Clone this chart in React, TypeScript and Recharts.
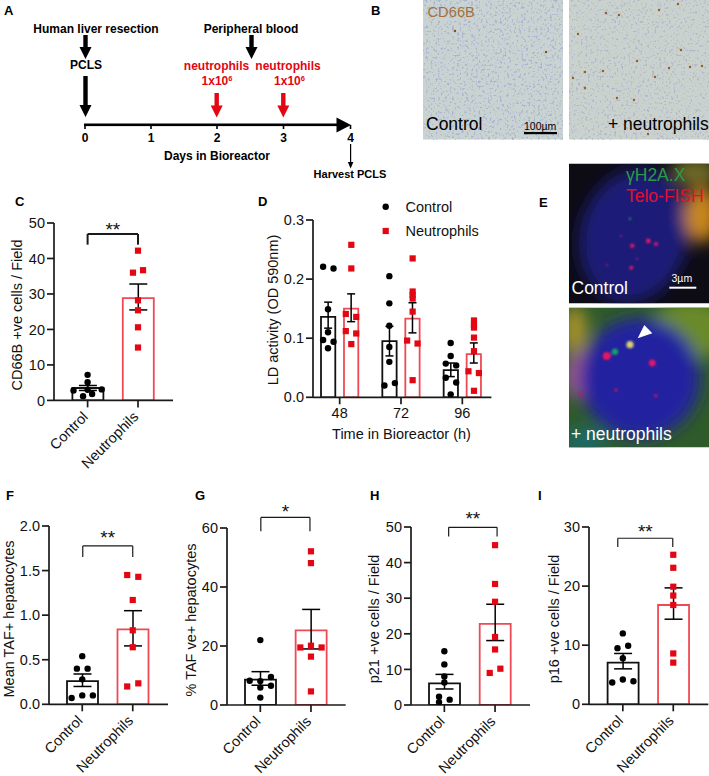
import React from "react";
import {
  ComposedChart,
  Bar,
  Cell,
  ErrorBar,
  Scatter,
  XAxis,
  YAxis,
  ReferenceLine,
  ReferenceDot,
} from "recharts";

const FONT = "'Liberation Sans', Arial, sans-serif";
const RED = "#e30613";
const BAR_RED = "#ee4a55";

const pairCats = ["Control", "Neutrophils"];
const hourCats = ["48", "72", "96"];

// panel C
const cMeans = [3.5, 28.8];
const cLows = [2.8, 25.5];
const cHighs = [4.2, 32.8];
const cControl = [7.2, 5.1, 2.8, 3.1, 3, 1.8, 1.2];
const cControlX = [0, 0, -0.28, 0.28, 0, 0.09, -0.09];
const cNeut = [42.2, 36, 36.7, 28.2, 25.4, 20.6, 14.9];
const cNeutX = [0, -0.1, 0.1, 0, 0, 0, 0];
const cTicks = [0, 10, 20, 30, 40, 50];

// panel D
const dControlMeans = [0.136, 0.095, 0.046];
const dControlLows = [0.117, 0.07, 0.035];
const dControlHighs = [0.161, 0.12, 0.058];
const dNeutMeans = [0.15, 0.133, 0.073];
const dNeutLows = [0.128, 0.109, 0.058];
const dNeutHighs = [0.175, 0.16, 0.092];
const dControl48 = [0.221, 0.218, 0.149, 0.11, 0.097, 0.094, 0.083];
const dControl72 = [0.205, 0.159, 0.121, 0.085, 0.06, 0.02, 0.024];
const dControl96 = [0.092, 0.07, 0.057, 0.054, 0.033, 0.025, 0.005];
const dNeut48 = [0.258, 0.218, 0.141, 0.136, 0.112, 0.108, 0.09];
const dNeut72 = [0.235, 0.179, 0.173, 0.167, 0.145, 0.096, 0.091, 0.029];
const dNeut96 = [0.13, 0.122, 0.118, 0.101, 0.078, 0.044, 0.041, 0.011];
const dControl48X = [-0.27, -0.1, -0.19, -0.19, -0.27, -0.1, -0.19];
const dControl72X = [-0.19, -0.19, -0.19, -0.19, -0.19, -0.27, -0.1];
const dControl96X = [-0.19, -0.19, -0.27, -0.1, -0.27, -0.1, -0.19];
const dNeut48X = [0.19, 0.19, 0.1, 0.27, 0.1, 0.27, 0.19];
const dNeut72X = [0.19, 0.19, 0.19, 0.19, 0.19, 0.1, 0.27, 0.19];
const dNeut96X = [0.19, 0.19, 0.19, 0.19, 0.19, 0.1, 0.27, 0.19];
const dTicks = [0, 0.1, 0.2, 0.3];

// panel F
const fMeans = [0.26, 0.84];
const fLows = [0.2, 0.655];
const fHighs = [0.34, 1.05];
const fControl = [0.54, 0.4, 0.4, 0.28, 0.07, 0.1, 0.1];
const fControlX = [0, -0.106, 0.106, 0, -0.21, 0, 0.21];
const fNeut = [1.45, 1.43, 1.17, 0.83, 0.64, 0.2, 0.235];
const fNeutX = [-0.11, 0.11, 0, 0, 0, -0.11, 0.11];
const fTicks = [0, 0.5, 1, 1.5, 2];

// panel G
const gMeans = [8.6, 25.3];
const gLows = [6.7, 19];
const gHighs = [11.3, 32.4];
const gControl = [22, 8.2, 9.5, 8.1, 6.5, 5.9, 2.5];
const gControlX = [0, -0.21, 0.21, 0, 0.21, 0, 0];
const gNeut = [52.1, 48.1, 19.5, 20.1, 19.5, 16.4, 4.6];
const gNeutX = [0, 0, -0.21, 0, 0.21, 0, 0];
const gTicks = [0, 20, 40, 60];

// panel H
const hMeans = [6.1, 22.8];
const hLows = [4.5, 18.1];
const hHighs = [8.6, 28.3];
const hControl = [15.1, 11.4, 8, 6.3, 2.3, 1.5, 0.8];
const hControlX = [0, 0, 0, 0, -0.105, 0.105, -0.105];
const hNeut = [44.9, 34, 29, 19.1, 15.6, 9, 10.2];
const hNeutX = [0, 0, 0, 0, 0, -0.105, 0.105];
const hTicks = [0, 10, 20, 30, 40, 50];

// panel I
const iMeans = [7.05, 16.8];
const iLows = [6, 14.4];
const iHighs = [8.6, 19.7];
const iControl = [12, 9.5, 9.9, 7.8, 3.7, 4.2, 3.9];
const iControlX = [0, -0.106, 0.106, 0, -0.21, 0, 0.21];
const iNeut = [25.3, 23.1, 19.9, 18.4, 16.8, 8.6, 7.05];
const iNeutX = [0, 0, 0, 0, 0, 0, 0];
const iTicks = [0, 10, 20, 30];

const zipPoints = (xs: number[], ys: number[], base = 0) =>
  ys.map((y, i) => ({ x: base + xs[i], y }));

const DotMark = ({ cx, cy }: any) => <circle cx={cx} cy={cy} r={3.2} fill="#000" />;
const SquareMark = ({ cx, cy }: any) => (
  <rect x={cx - 3.1} y={cy - 3.1} width={6.2} height={6.2} fill={RED} />
);

const errOf = (m: number[], lo: number[], hi: number[], i: number) => [m[i] - lo[i], hi[i] - m[i]];

// one bar panel, the plot box is given in page pixels
function BarPanel({
  axisX,
  xEnd,
  yTop,
  yBottom,
  padL,
  padR,
  cats,
  yMax,
  ticks,
  decimals = 0,
  barSize,
  barGap = 0,
  capHalf = 9,
  bars,
  controlPts,
  neutPts,
  bracket,
  stars,
  starY,
  angled = true,
}: any) {
  const leftRoom = 50;
  const topRoom = 42;
  const bottomRoom = 72;
  const plotW = xEnd - axisX;
  const plotH = yBottom - yTop;
  const data = cats.map((name: string, i: number) => {
    const row: any = { name };
    bars.forEach((b: any) => {
      row[b.key] = b.means[i];
      row[b.key + "Err"] = errOf(b.means, b.lows, b.highs, i);
    });
    return row;
  });
  const tickStyle = { fontFamily: FONT, fontSize: 14.5, fill: "#111" };
  const axisLine = { stroke: "#1a1a1a", strokeWidth: 1.7 };
  return (
    <div style={{ position: "absolute", left: axisX - leftRoom, top: yTop - topRoom }}>
      <ComposedChart
        width={leftRoom + plotW + 1}
        height={topRoom + plotH + bottomRoom}
        data={data}
        barSize={barSize}
        barGap={barGap}
        margin={{ top: topRoom, right: 1, bottom: 0, left: 0 }}
      >
        <XAxis
          xAxisId="cat"
          dataKey="name"
          type="category"
          height={bottomRoom}
          padding={{ left: padL, right: padR }}
          interval={0}
          tickSize={7}
          tickMargin={3}
          axisLine={axisLine}
          tickLine={axisLine}
          tick={angled ? { ...tickStyle, dx: -6 } : tickStyle}
          angle={angled ? -45 : 0}
          textAnchor={angled ? "end" : "middle"}
        />
        <XAxis
          xAxisId="num"
          dataKey="x"
          type="number"
          hide
          domain={[-0.5, cats.length - 0.5]}
          padding={{ left: padL, right: padR }}
          allowDataOverflow
        />
        <YAxis
          dataKey="y"
          type="number"
          width={leftRoom}
          domain={[0, yMax]}
          ticks={ticks}
          interval={0}
          tickSize={7}
          allowDataOverflow
          axisLine={axisLine}
          tickLine={axisLine}
          tick={tickStyle}
          tickFormatter={(v: number) => v.toFixed(decimals)}
        />
        {bars.map((b: any) => (
          <Bar
            key={b.key}
            xAxisId="cat"
            dataKey={b.key}
            fill="#fff"
            strokeWidth={1.8}
            isAnimationActive={false}
          >
            {cats.map((c: string, i: number) => (
              <Cell key={c} fill="#fff" stroke={b.colors[i]} />
            ))}
            <ErrorBar
              dataKey={b.key + "Err"}
              direction="y"
              width={capHalf}
              stroke="#000"
              strokeWidth={1.5}
              isAnimationActive={false}
            />
          </Bar>
        ))}
        <Scatter
          xAxisId="num"
          data={controlPts}
          dataKey="y"
          shape={DotMark}
          isAnimationActive={false}
        />
        <Scatter
          xAxisId="num"
          data={neutPts}
          dataKey="y"
          shape={SquareMark}
          isAnimationActive={false}
        />
        {bracket && (
          <ReferenceLine
            xAxisId="num"
            ifOverflow="visible"
            stroke="#1a1a1a"
            strokeWidth={bracket.w}
            segment={[
              { x: bracket.x0, y: bracket.top },
              { x: bracket.x1, y: bracket.top },
            ]}
          />
        )}
        {bracket && (
          <ReferenceLine
            xAxisId="num"
            ifOverflow="visible"
            stroke="#1a1a1a"
            strokeWidth={bracket.w}
            segment={[
              { x: bracket.x0, y: bracket.top },
              { x: bracket.x0, y: bracket.bottom },
            ]}
          />
        )}
        {bracket && (
          <ReferenceLine
            xAxisId="num"
            ifOverflow="visible"
            stroke="#1a1a1a"
            strokeWidth={bracket.w}
            segment={[
              { x: bracket.x1, y: bracket.top },
              { x: bracket.x1, y: bracket.bottom },
            ]}
          />
        )}
        {stars && (
          <ReferenceDot
            xAxisId="num"
            x={(bracket.x0 + bracket.x1) / 2}
            y={starY}
            r={0}
            ifOverflow="visible"
            label={{ value: stars, position: "center", fontFamily: FONT, fontSize: 19, fill: "#111" }}
          />
        )}
      </ComposedChart>
    </div>
  );
}

const pairBars = (means: number[], lows: number[], highs: number[]) => [
  { key: "mean", means, lows, highs, colors: ["#111", BAR_RED] },
];

const Arrow = ({ x, y0, y1, color = "#000" }: any) => (
  <path
    d={`M${x - 2.2} ${y0}H${x + 2.2}V${y1 - 12}H${x + 6}L${x} ${y1}L${x - 6} ${y1 - 12}H${x - 2.2}Z`}
    fill={color}
  />
);

const YLabel = ({ x, y, children }: any) => (
  <text
    transform={`translate(${x},${y}) rotate(-90)`}
    textAnchor="middle"
    dominantBaseline="central"
    fontSize={14.5}
    fill="#111"
  >
    {children}
  </text>
);

const panelLetters = [
  ["A", 4, 15],
  ["B", 371, 15],
  ["C", 15, 206],
  ["D", 258, 206],
  ["E", 539, 207],
  ["F", 6, 500],
  ["G", 195, 500],
  ["H", 370, 500],
  ["I", 538, 500],
];

// stained cells in the micrographs
const brownLeft = [[455, 31], [546, 52]];
const brownRight = [
  [606, 13], [619, 15], [659, 10], [678, 4], [578, 34], [681, 50], [637, 61], [669, 68], [690, 67],
  [702, 66], [573, 78], [603, 71], [585, 72], [634, 100], [617, 98], [648, 134], [585, 88], [655, 77],
];

function Schematic() {
  return (
    <g fontWeight="bold" fontSize={12} textAnchor="middle">
      <text x={96} y={33}>Human liver resection</text>
      <Arrow x={85.5} y0={35} y1={59} />
      <text x={86} y={69}>PCLS</text>
      <Arrow x={85.5} y0={76} y1={117} />
      <text x={251} y={33}>Peripheral blood</text>
      <Arrow x={251.5} y0={35} y1={59} />
      <g fill={RED}>
        <text x={216.5} y={70}>neutrophils</text>
        <text x={288} y={70}>neutrophils</text>
        <text x={217} y={85}>1x10<tspan fontSize={7.5} dy={-4}>6</tspan></text>
        <text x={289.5} y={85}>1x10<tspan fontSize={7.5} dy={-4}>6</tspan></text>
      </g>
      <Arrow x={216.7} y0={93} y1={117.5} color={RED} />
      <Arrow x={283.3} y0={93} y1={117.5} color={RED} />
      <rect x={84} y={123.5} width={254} height={2.6} fill="#000" />
      <path d="M336.5 117.5L351 125L336.5 132.5Z" fill="#000" />
      {[85, 151, 217, 283.5, 350.5].map((x, i) => (
        <g key={x}>
          <rect x={x - 0.8} y={125} width={1.6} height={4} fill="#000" />
          <text x={x} y={142}>{i}</text>
        </g>
      ))}
      <text x={217} y={160}>Days in Bioreactor</text>
      <rect x={350} y={144} width={1.2} height={20} fill="#000" />
      <path d="M347.8 162L350.6 168.5L353.4 162Z" fill="#000" />
      <text x={350} y={178} fontSize={11}>Harvest PCLS</text>
    </g>
  );
}

function Micrographs() {
  return (
    <g>
      <rect x={423} y={0} width={140} height={139.5} fill="#c9d3d1" />
      <rect x={423} y={0} width={140} height={139.5} filter="url(#cells)" opacity={0.6} />
      <rect x={569} y={0} width={140} height={139.5} fill="#c9d2cd" />
      <rect x={569} y={0} width={140} height={139.5} filter="url(#cells2)" opacity={0.55} />
      {brownLeft.map(([x, y]) => (
        <circle key={`${x}-${y}`} cx={x} cy={y} r={1.2} fill="#8f4a14" />
      ))}
      {brownRight.map(([x, y]) => (
        <circle key={`${x}-${y}`} cx={x} cy={y} r={1.2} fill="#9c5a1e" />
      ))}
      <text x={427.5} y={17} fontSize={14.7} fill="#a86f3c">CD66B</text>
      <text x={426} y={130} fontSize={17.5} fill="#000">Control</text>
      <text x={524} y={130} fontSize={10.5} fill="#000">100µm</text>
      <rect x={524} y={132} width={33} height={2.2} fill="#000" />
      <text x={608} y={130} fontSize={17.5} fill="#000">+ neutrophils</text>
    </g>
  );
}

function Nuclei() {
  return (
    <g>
      <clipPath id="eTop"><rect x={569} y={163.5} width={140} height={140} /></clipPath>
      <clipPath id="eBottom"><rect x={569} y={307.5} width={140} height={140} /></clipPath>
      <g clipPath="url(#eTop)">
        <rect x={569} y={163.5} width={140} height={140} fill="#0d0c14" />
        <g filter="url(#blur8)">
          <ellipse cx={634} cy={236} rx={54} ry={68} fill="#1b1b78" transform="rotate(15 634 236)" />
          <ellipse cx={702} cy={215} rx={17} ry={28} fill="#c8861c" />
          <ellipse cx={695} cy={172} rx={24} ry={14} fill="#6f6a28" />
        </g>
        <g filter="url(#blur1)" fill="#e0186a">
          <circle cx={648.3} cy={241} r={2.4} />
          <circle cx={656} cy={244} r={2} />
          <circle cx={632.3} cy={245.7} r={2.2} />
          <circle cx={631.3} cy={267.7} r={2} />
          <circle cx={637} cy={259} r={1.2} opacity={0.6} />
          <circle cx={607} cy={265} r={1.2} opacity={0.6} />
          <circle cx={621} cy={236} r={1.2} opacity={0.6} />
          <circle cx={630} cy={218.7} r={1.2} fill="#1a9a5a" />
        </g>
        <text x={626} y={180.5} fontSize={17.5} fill="#2b9a48">γH2A.X</text>
        <text x={626} y={201.5} fontSize={17.5} fill="#e0102f">Telo-FISH</text>
        <text x={571.5} y={294} fontSize={17.5} fill="#fff">Control</text>
        <text x={671.5} y={281.5} fontSize={10.5} fill="#fff">3µm</text>
        <rect x={669.3} y={286.7} width={27} height={2} fill="#fff" />
      </g>
      <g clipPath="url(#eBottom)">
        <rect x={569} y={307.5} width={140} height={140} fill="#2f5a2a" />
        <g filter="url(#blur8)">
          <ellipse cx={690} cy={330} rx={40} ry={30} fill="#6a8a2a" />
          <ellipse cx={575} cy={330} rx={12} ry={24} fill="#a8922a" />
          <ellipse cx={580} cy={375} rx={16} ry={24} fill="#9a5a90" />
          <ellipse cx={585} cy={440} rx={22} ry={12} fill="#1a6a6a" />
          <ellipse cx={640} cy={378} rx={60} ry={60} fill="#2222a0" />
        </g>
        <g filter="url(#blur1)">
          <circle cx={606.7} cy={356} r={4} fill="#e8125f" />
          <circle cx={615} cy={351.7} r={3.2} fill="#12a060" />
          <circle cx={630} cy={344.7} r={3.6} fill="#d8d070" />
          <circle cx={652.3} cy={363} r={3.4} fill="#e0146a" />
          <circle cx={616} cy={390} r={1.8} fill="#c01868" />
          <circle cx={655.7} cy={395.7} r={1.8} fill="#c01868" />
          <circle cx={581} cy={394} r={1.8} fill="#c01868" />
        </g>
        <path d="M644.3 325L652.3 333.3L637.7 338.3Z" fill="#fff" />
        <text x={571} y={440} fontSize={17.5} fill="#fff">+ neutrophils</text>
      </g>
    </g>
  );
}

export default function App() {
  const controlD = [
    ...zipPoints(dControl48X, dControl48, 0),
    ...zipPoints(dControl72X, dControl72, 1),
    ...zipPoints(dControl96X, dControl96, 2),
  ];
  const neutD = [
    ...zipPoints(dNeut48X, dNeut48, 0),
    ...zipPoints(dNeut72X, dNeut72, 1),
    ...zipPoints(dNeut96X, dNeut96, 2),
  ];
  const neutPair = (xs: number[], ys: number[]) => zipPoints(xs, ys, 1);

  return (
    <div
      style={{
        position: "absolute",
        left: 0,
        top: 0,
        width: 709,
        height: 776,
        overflow: "hidden",
        background: "#fff",
        fontFamily: FONT,
      }}
    >
      <svg
        width={709}
        height={776}
        style={{ position: "absolute", left: 0, top: 0 }}
        fontFamily={FONT}
      >
        <defs>
          <filter id="cells" x="0" y="0" width="100%" height="100%" colorInterpolationFilters="sRGB">
            <feTurbulence type="fractalNoise" baseFrequency="0.42" numOctaves="2" seed="4" />
            <feColorMatrix values="0 0 0 0 0.6  0 0 0 0 0.62  0 0 0 0 0.82  6 0 0 0 -3.3" />
          </filter>
          <filter id="cells2" x="0" y="0" width="100%" height="100%" colorInterpolationFilters="sRGB">
            <feTurbulence type="fractalNoise" baseFrequency="0.42" numOctaves="2" seed="9" />
            <feColorMatrix values="0 0 0 0 0.64  0 0 0 0 0.62  0 0 0 0 0.8  6 0 0 0 -3.4" />
          </filter>
          <filter id="blur8"><feGaussianBlur stdDeviation="8" /></filter>
          <filter id="blur1"><feGaussianBlur stdDeviation="0.8" /></filter>
        </defs>
        <Schematic />
        <Micrographs />
        <Nuclei />
        {panelLetters.map(([l, x, y]) => (
          <text key={l as string} x={x as number} y={y as number} fontSize={13} fontWeight="bold" fill="#000">
            {l}
          </text>
        ))}
        <YLabel x={17} y={315}>CD66B +ve cells / Field</YLabel>
        <YLabel x={273} y={310}>LD activity (OD 590nm)</YLabel>
        <YLabel x={9} y={619}>Mean TAF+ hepatocytes</YLabel>
        <YLabel x={191} y={620}>% TAF ve+ hepatocytes</YLabel>
        <YLabel x={374} y={619}>p21 +ve cells / Field</YLabel>
        <YLabel x={554} y={619}>p16 +ve cells / Field</YLabel>
        <text x={401.5} y={439} textAnchor="middle" fontSize={14.5} fill="#111">Time in Bioreactor (h)</text>
        <circle cx={385.7} cy={206.7} r={3.2} fill="#000" />
        <text x={405.5} y={211.5} fontSize={14.5} fill="#111">Control</text>
        <rect x={382.6} y={227.9} width={6.2} height={6.2} fill={RED} />
        <text x={405.5} y={236} fontSize={14.5} fill="#111">Neutrophils</text>
      </svg>

      <BarPanel
        axisX={54} xEnd={173} yTop={223.3} yBottom={400.7} padL={8.4} padR={9.8}
        cats={pairCats} yMax={50} ticks={cTicks} barSize={31}
        bars={pairBars(cMeans, cLows, cHighs)}
        controlPts={zipPoints(cControlX, cControl)}
        neutPts={neutPair(cNeutX, cNeut)}
        bracket={{ x0: 0, x1: 1, top: 46.9, bottom: 43.9, w: 2 }}
        stars="**" starY={48.35}
      />
      <BarPanel
        axisX={313.3} xEnd={491.7} yTop={220} yBottom={397.3} padL={-4} padR={-1.6}
        cats={hourCats} yMax={0.3} ticks={dTicks} decimals={1} barSize={14.3} barGap={8.7} capHalf={4}
        angled={false}
        bars={[
          { key: "control", means: dControlMeans, lows: dControlLows, highs: dControlHighs, colors: ["#111", "#111", "#111"] },
          { key: "neut", means: dNeutMeans, lows: dNeutLows, highs: dNeutHighs, colors: [BAR_RED, BAR_RED, BAR_RED] },
        ]}
        controlPts={controlD}
        neutPts={neutD}
      />
      <BarPanel
        axisX={48.7} xEnd={167.7} yTop={526} yBottom={704.3} padL={8} padR={10}
        cats={pairCats} yMax={2} ticks={fTicks} decimals={1} barSize={31}
        bars={pairBars(fMeans, fLows, fHighs)}
        controlPts={zipPoints(fControlX, fControl)}
        neutPts={neutPair(fNeutX, fNeut)}
        bracket={{ x0: 0.01, x1: 1, top: 1.776, bottom: 1.652, w: 1.2 }}
        stars="**" starY={1.875}
      />
      <BarPanel
        axisX={227.3} xEnd={346} yTop={528.3} yBottom={705.3} padL={8} padR={9.4}
        cats={pairCats} yMax={60} ticks={gTicks} barSize={31}
        bars={pairBars(gMeans, gLows, gHighs)}
        controlPts={zipPoints(gControlX, gControl)}
        neutPts={neutPair(gNeutX, gNeut)}
        bracket={{ x0: 0.01, x1: 0.98, top: 63.6, bottom: 58.9, w: 1.2 }}
        stars="*" starY={65.8}
      />
      <BarPanel
        axisX={411} xEnd={530} yTop={527} yBottom={705} padL={8} padR={9.6}
        cats={pairCats} yMax={50} ticks={hTicks} barSize={31}
        bars={pairBars(hMeans, hLows, hHighs)}
        controlPts={zipPoints(hControlX, hControl)}
        neutPts={neutPair(hNeutX, hNeut)}
        bracket={{ x0: 0.085, x1: 1.04, top: 49.9, bottom: 47.3, w: 1.2 }}
        stars="**" starY={52.35}
      />
      <BarPanel
        axisX={589} xEnd={708.3} yTop={527} yBottom={704.3} padL={8.6} padR={9.8}
        cats={pairCats} yMax={30} ticks={iTicks} barSize={31}
        bars={pairBars(iMeans, iLows, iHighs)}
        controlPts={zipPoints(iControlX, iControl)}
        neutPts={neutPair(iNeutX, iNeut)}
        bracket={{ x0: -0.1, x1: 0.99, top: 28.1, bottom: 26.6, w: 1.2 }}
        stars="**" starY={29.25}
      />
    </div>
  );
}
